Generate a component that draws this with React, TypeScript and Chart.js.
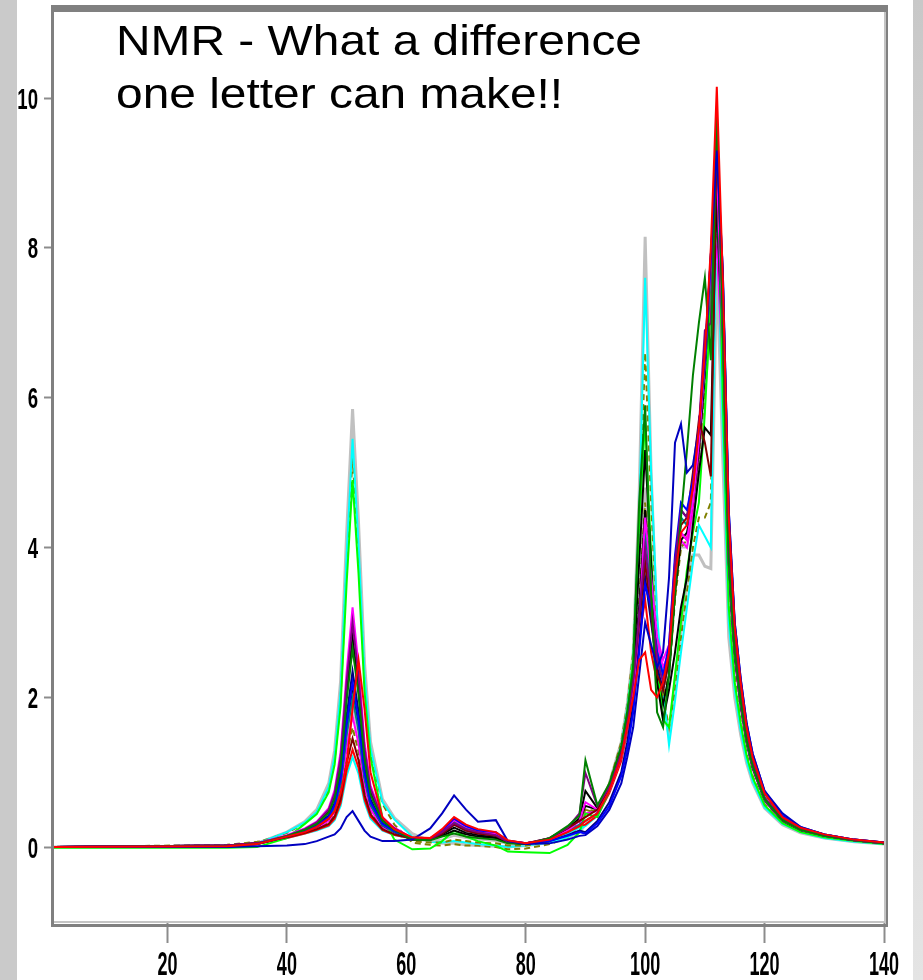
import React, { useEffect, useRef } from "react";
import { Chart, registerables } from "chart.js";

Chart.register(...registerables);

const titleLines = ["NMR - What a difference", "one letter can make!!"];
const xTicks = [20, 40, 60, 80, 100, 120, 140];
const yTicks = [0, 2, 4, 6, 8, 10];

const xValues = [1, 30, 35, 40, 43, 45, 47, 48, 49, 50, 51, 52, 53, 54, 56, 58, 61, 64, 66, 68, 70, 72, 75, 77, 80, 84, 87, 89, 90, 92, 94, 96, 97, 98, 99, 100, 101, 102, 103, 104, 105, 106, 107, 108, 109, 110, 111, 112, 113, 114, 115, 116, 117, 118, 120, 123, 126, 130, 135, 140];

const red = [0, 0.01, 0.04,
  0.14, 0.2, 0.27, 0.38, 0.48, 0.72, 1.1, 1.85, 2.5, 1.85, 1.0, 0.4, 0.24,
  0.13, 0.12, 0.24, 0.4, 0.3, 0.24, 0.2, 0.09, 0.05, 0.1, 0.2,
  0.28, 0.35, 0.45, 0.75, 1.2, 1.6, 2.0, 2.5, 2.6,
  2.1, 2.0, 2.2, 2.6, 3.6, 4.2, 4.3, 4.8, 5.6, 6.6, 8.0, 10.15,
  7.6, 4.4, 2.95, 2.2, 1.6, 1.2, 0.72, 0.4, 0.26, 0.17, 0.1, 0.06];

const odd = [0, 0.0, 0.01,
  0.02, 0.04, 0.08, 0.14, 0.17, 0.25, 0.4, 0.48, 0.35, 0.22, 0.14, 0.08, 0.08,
  0.1, 0.25, 0.45, 0.69, 0.5, 0.34, 0.36, 0.08, 0.04, 0.05, 0.1,
  0.15, 0.16, 0.28, 0.5, 0.85, 1.2, 1.6, 2.3, 3.0,
  2.7, 2.4, 2.6, 3.6, 5.4, 5.65, 5.0, 5.1, 5.6, 6.5, 7.9, 9.3,
  7.7, 4.5, 3.0, 2.25, 1.65, 1.25, 0.75, 0.45, 0.27, 0.17, 0.1, 0.06];

const darkGreen = [0, 0.01, 0.04,
  0.15, 0.23, 0.31, 0.46, 0.65, 1.07, 1.95, 2.65, 2.03, 1.18, 0.7, 0.35, 0.23,
  0.1, 0.09, 0.14, 0.18, 0.14, 0.12, 0.1, 0.05, 0.04, 0.12, 0.28,
  0.42, 1.16, 0.56, 0.85, 1.35, 1.8, 2.4, 4.6, 5.9,
  3.4, 1.8, 1.6, 2.3, 3.4, 4.4, 5.3, 6.3, 7.0, 7.6, 6.5, 9.85,
  6.9, 3.8, 2.6, 1.95, 1.42, 1.08, 0.64, 0.36, 0.23, 0.15, 0.09, 0.05];

const purple = [0, 0.02, 0.05,
  0.15, 0.24, 0.33, 0.5, 0.72, 1.2, 2.2, 3.0, 2.28, 1.32, 0.78, 0.38, 0.25,
  0.12, 0.11, 0.2, 0.32, 0.24, 0.2, 0.16, 0.07, 0.05, 0.12, 0.26,
  0.45, 0.99, 0.55, 0.8, 1.25, 1.65, 2.2, 3.1, 4.0,
  3.3, 2.5, 2.2, 2.6, 3.8, 4.5, 4.4, 4.8, 5.6, 6.9, 7.0, 9.6,
  7.2, 4.0, 2.7, 2.0, 1.47, 1.12, 0.66, 0.37, 0.24, 0.15, 0.09, 0.05];

const blue = [0, 0.01, 0.04,
  0.14, 0.21, 0.28, 0.4, 0.56, 0.91, 1.64, 2.2, 1.7, 1.0, 0.6, 0.31, 0.21,
  0.12, 0.11, 0.22, 0.38, 0.28, 0.22, 0.2, 0.08, 0.05, 0.08, 0.15,
  0.2, 0.18, 0.32, 0.55, 0.95, 1.3, 1.8, 2.6, 3.5,
  3.2, 2.6, 2.3, 2.7, 3.9, 4.6, 4.5, 4.9, 5.6, 6.6, 7.9, 9.4,
  7.7, 4.5, 3.0, 2.25, 1.65, 1.25, 0.75, 0.42, 0.27, 0.17, 0.1, 0.06];

const maroon = [0, 0.02, 0.05,
  0.13, 0.19, 0.24, 0.31, 0.41, 0.64, 1.12, 1.45, 1.16, 0.7, 0.44, 0.24, 0.17,
  0.11, 0.1, 0.18, 0.3, 0.22, 0.18, 0.15, 0.07, 0.05, 0.12, 0.25,
  0.35, 0.4, 0.5, 0.8, 1.3, 1.7, 2.25, 3.0, 3.8,
  3.1, 2.3, 2.1, 2.5, 3.7, 4.3, 4.4, 5.0, 5.7, 5.4, 4.95, 9.5,
  7.2, 4.0, 2.7, 2.0, 1.47, 1.12, 0.66, 0.37, 0.24, 0.15, 0.09, 0.05];

const magenta = [0, 0.02, 0.05,
  0.16, 0.25, 0.34, 0.52, 0.76, 1.27, 2.33, 3.2, 2.42, 1.4, 0.82, 0.4, 0.26,
  0.12, 0.12, 0.22, 0.36, 0.27, 0.22, 0.18, 0.08, 0.05, 0.1, 0.22,
  0.35, 0.6, 0.5, 0.75, 1.2, 1.6, 2.1, 3.0, 4.4,
  3.6, 2.8, 2.5, 2.7, 3.8, 4.2, 4.1, 4.6, 5.4, 6.5, 7.8, 9.0,
  6.9, 3.8, 2.6, 1.95, 1.42, 1.08, 0.64, 0.36, 0.23, 0.15, 0.09, 0.05];

const black = [0, 0.02, 0.05,
  0.15, 0.24, 0.32, 0.47, 0.68, 1.13, 2.06, 2.8, 2.14, 1.24, 0.74, 0.36, 0.24,
  0.1, 0.1, 0.15, 0.22, 0.17, 0.14, 0.12, 0.06, 0.04, 0.11, 0.25,
  0.38, 0.75, 0.52, 0.82, 1.3, 1.75, 2.3, 3.8, 5.3,
  3.8, 2.2, 1.7, 2.1, 2.6, 3.2, 3.6, 4.3, 5.0, 5.6, 5.5, 8.9,
  6.9, 3.8, 2.6, 1.95, 1.42, 1.08, 0.64, 0.36, 0.23, 0.15, 0.09, 0.05];

const navy = [0, 0.01, 0.04,
  0.14, 0.22, 0.29, 0.42, 0.59, 0.97, 1.75, 2.35, 1.81, 1.06, 0.64, 0.32, 0.22,
  0.11, 0.1, 0.18, 0.3, 0.22, 0.18, 0.15, 0.07, 0.04, 0.08, 0.16,
  0.22, 0.2, 0.35, 0.6, 1.0, 1.4, 1.9, 2.7, 3.6,
  3.0, 2.4, 2.1, 2.5, 3.7, 4.5, 4.4, 4.8, 5.5, 6.5, 7.9, 9.2,
  7.6, 4.4, 2.95, 2.2, 1.6, 1.2, 0.72, 0.4, 0.26, 0.17, 0.1, 0.06];

const teal = [0, 0.02, 0.05,
  0.14, 0.21, 0.27, 0.38, 0.52, 0.84, 1.5, 2.0, 1.56, 0.92, 0.56, 0.29, 0.2,
  0.12, 0.11, 0.2, 0.34, 0.25, 0.2, 0.17, 0.08, 0.05, 0.1, 0.2,
  0.3, 0.35, 0.45, 0.75, 1.2, 1.6, 2.1, 3.0, 4.2,
  3.5, 2.6, 2.3, 2.5, 3.7, 4.4, 4.3, 4.7, 5.5, 6.4, 7.7, 8.7,
  6.8, 3.75, 2.6, 1.92, 1.4, 1.07, 0.63, 0.36, 0.23, 0.15, 0.09, 0.05];

const green = [-0.01, -0.01, 0.0,
  0.12, 0.31, 0.44, 0.73, 1.1, 1.88, 3.51, 4.9, 3.65, 2.08, 1.2, 0.4, 0.1,
  -0.03, -0.02, 0.08, 0.22, 0.14, 0.08, 0.02, -0.06, -0.07, -0.08, 0.03,
  0.2, 0.45, 0.4, 0.75, 1.3, 1.8, 2.5, 4.3, 5.7,
  3.9, 2.4, 1.7, 1.6, 2.3, 3.0, 3.7, 4.2, 4.6, 5.8, 7.3, 9.7,
  6.0, 3.2, 2.2, 1.65, 1.22, 0.93, 0.56, 0.32, 0.2, 0.13, 0.08, 0.04];

const black2 = [0, 0.02, 0.05,
  0.14, 0.21, 0.27, 0.38, 0.53, 0.86, 1.54, 2.05, 1.6, 0.94, 0.57, 0.29, 0.2,
  0.1, 0.1, 0.17, 0.26, 0.19, 0.16, 0.13, 0.06, 0.04, 0.12, 0.26,
  0.36, 0.55, 0.5, 0.8, 1.3, 1.7, 2.25, 3.2, 4.5,
  3.4, 2.3, 1.9, 2.3, 3.4, 4.1, 4.2, 4.6, 5.3, 6.3, 7.6, 8.5,
  6.7, 3.7, 2.55, 1.9, 1.4, 1.06, 0.63, 0.35, 0.22, 0.14, 0.09, 0.05];

const red2 = [0, 0.01, 0.04,
  0.12, 0.18, 0.23, 0.29, 0.38, 0.59, 1.02, 1.3, 1.06, 0.64, 0.41, 0.23, 0.16,
  0.12, 0.12, 0.2, 0.35, 0.26, 0.22, 0.18, 0.09, 0.05, 0.1, 0.2,
  0.28, 0.3, 0.42, 0.72, 1.15, 1.55, 2.05, 2.8, 3.3,
  2.6, 2.2, 2.2, 2.6, 3.7, 4.2, 4.1, 4.6, 5.4, 6.5, 7.8, 8.6,
  6.9, 3.9, 2.65, 1.97, 1.44, 1.1, 0.65, 0.37, 0.24, 0.15, 0.09, 0.05];

const cyan2 = [0, 0.02, 0.05,
  0.12, 0.18, 0.22, 0.28, 0.36, 0.55, 0.95, 1.2, 0.98, 0.6, 0.38, 0.22, 0.16,
  0.11, 0.11, 0.2, 0.38, 0.27, 0.22, 0.18, 0.08, 0.04, 0.09, 0.18,
  0.26, 0.28, 0.42, 0.75, 1.2, 1.6, 2.15, 3.1, 4.3,
  3.4, 2.6, 2.3, 2.5, 3.6, 4.4, 4.3, 4.8, 5.5, 6.6, 7.7, 8.8,
  6.8, 3.8, 2.6, 1.95, 1.42, 1.08, 0.64, 0.36, 0.23, 0.15, 0.09, 0.05];

const magenta2 = [0, 0.02, 0.05,
  0.13, 0.2, 0.25, 0.35, 0.47, 0.75, 1.33, 1.75, 1.38, 0.82, 0.5, 0.27, 0.19,
  0.12, 0.11, 0.2, 0.33, 0.25, 0.2, 0.17, 0.08, 0.05, 0.1, 0.2,
  0.3, 0.45, 0.48, 0.78, 1.22, 1.62, 2.15, 3.0, 3.9,
  3.3, 2.7, 2.4, 2.6, 3.6, 4.1, 4.0, 4.5, 5.3, 6.4, 7.5, 8.0,
  6.4, 3.6, 2.5, 1.88, 1.38, 1.05, 0.62, 0.35, 0.22, 0.14, 0.09, 0.05];

const olive2 = [0, 0.03, 0.07,
  0.13, 0.19, 0.24, 0.33, 0.44, 0.7, 1.23, 1.6, 1.27, 0.76, 0.47, 0.25, 0.18,
  0.08, 0.06, 0.06, 0.1, 0.08, 0.06, 0.05, 0.02, 0.02, 0.08, 0.2,
  0.32, 0.5, 0.48, 0.8, 1.28, 1.7, 2.2, 3.3, 4.6,
  3.5, 2.5, 2.0, 2.3, 3.3, 4.0, 4.1, 4.5, 5.2, 6.1, 7.3, 8.4,
  6.5, 3.6, 2.5, 1.86, 1.37, 1.05, 0.62, 0.35, 0.22, 0.14, 0.09, 0.05];

const gray2 = [0, 0.01, 0.04,
  0.13, 0.2, 0.26, 0.36, 0.5, 0.8, 1.43, 1.9, 1.49, 0.88, 0.54, 0.28, 0.2,
  0.1, 0.08, 0.1, 0.15, 0.12, 0.1, 0.08, 0.04, 0.03, 0.08, 0.18,
  0.28, 0.3, 0.45, 0.78, 1.25, 1.7, 2.2, 3.2, 4.8,
  3.6, 2.5, 2.1, 2.4, 3.4, 4.0, 4.0, 4.4, 5.1, 6.0, 7.0, 8.2,
  6.4, 3.6, 2.5, 1.85, 1.36, 1.04, 0.62, 0.35, 0.22, 0.14, 0.08, 0.05];

const cyan = [0, 0.01, 0.05,
  0.2, 0.33, 0.47, 0.8, 1.21, 2.08, 3.89, 5.45, 4.04, 2.3, 1.32, 0.6, 0.37,
  0.14, 0.07, 0.06, 0.08, 0.06, 0.04, 0.02, 0.0, 0.02, 0.06, 0.13,
  0.22, 0.3, 0.42, 0.8, 1.35, 1.85, 2.5, 4.4, 7.6,
  5.0, 3.1, 2.1, 1.36, 1.95, 2.6, 3.2, 3.8, 4.3, 4.15, 4.0, 8.6,
  5.6, 3.0, 2.1, 1.55, 1.15, 0.88, 0.53, 0.31, 0.2, 0.12, 0.07, 0.04];

const olive = [0, 0.02, 0.06,
  0.19, 0.32, 0.46, 0.77, 1.16, 1.99, 3.72, 5.2, 3.86, 2.2, 1.26, 0.58, 0.3,
  0.06, 0.03, 0.02, 0.04, 0.02, 0.02, 0.0, -0.03, -0.02, 0.04, 0.12,
  0.28, 0.5, 0.45, 0.85, 1.4, 1.9, 2.6, 4.3, 6.6,
  4.6, 2.9, 2.0, 1.6, 2.1, 2.8, 3.4, 4.0, 4.4, 4.4, 4.6, 8.8,
  6.0, 3.3, 2.3, 1.7, 1.25, 0.95, 0.57, 0.33, 0.21, 0.13, 0.08, 0.05];

const gray = [0, 0.01, 0.05,
  0.2, 0.34, 0.5, 0.85, 1.29, 2.22, 4.17, 5.85, 4.33, 2.46, 1.41, 0.64, 0.39,
  0.18, 0.08, 0.05, 0.05, 0.03, 0.02, 0.01, 0.0, 0.02, 0.06, 0.12,
  0.2, 0.3, 0.45, 0.85, 1.4, 1.9, 2.6, 4.7, 8.15,
  5.0, 2.9, 1.9, 1.5, 2.2, 2.9, 3.5, 3.9, 3.9, 3.75, 3.72, 7.8,
  5.2, 2.8, 2.0, 1.5, 1.12, 0.86, 0.52, 0.3, 0.19, 0.12, 0.07, 0.04];

// drawing order: first entry is drawn on top
const seriesList = [
  { name: "red", values: red, color: "#ff0000" },
  { name: "odd", values: odd, color: "#0000c0" },
  { name: "darkGreen", values: darkGreen, color: "#008000" },
  { name: "purple", values: purple, color: "#800080" },
  { name: "blue", values: blue, color: "#0000ff" },
  { name: "maroon", values: maroon, color: "#800000" },
  { name: "magenta", values: magenta, color: "#ff00ff" },
  { name: "black", values: black, color: "#000000" },
  { name: "navy", values: navy, color: "#000080" },
  { name: "teal", values: teal, color: "#008080" },
  { name: "green", values: green, color: "#00ff00" },
  { name: "black2", values: black2, color: "#000000" },
  { name: "red2", values: red2, color: "#ff0000" },
  { name: "cyan2", values: cyan2, color: "#00ffff" },
  { name: "magenta2", values: magenta2, color: "#ff00ff" },
  { name: "olive2", values: olive2, color: "#808000", dash: true },
  { name: "gray2", values: gray2, color: "#c0c0c0" },
  { name: "cyan", values: cyan, color: "#00ffff" },
  { name: "olive", values: olive, color: "#808000", dash: true },
  { name: "gray", values: gray, color: "#c0c0c0", wide: true },
];

const decorPlugin = {
  id: "decor",
  beforeDraw(chart: any) {
    const ctx = chart.ctx;
    const w = chart.width;
    const h = chart.height;
    ctx.save();
    ctx.fillStyle = "#cacaca";
    ctx.fillRect(0, 0, 17, h);
    const g = ctx.createLinearGradient(0, 0, 0, h);
    g.addColorStop(0, "#c8c8c8");
    g.addColorStop(1, "#e4e4e4");
    ctx.fillStyle = g;
    ctx.fillRect(913, 0, w - 913, h);
    ctx.fillStyle = "#ffffff";
    ctx.fillRect(17, 0, 896, h);
    ctx.restore();
  },
  afterDraw(chart: any) {
    const ctx = chart.ctx;
    const a = chart.chartArea;
    const xs = chart.scales.x;
    const ys = chart.scales.y;
    ctx.save();
    // frame
    ctx.fillStyle = "#c4c4c4";
    ctx.fillRect(a.left - 1, a.bottom - 1, a.right - a.left + 2, 2);
    ctx.fillRect(a.right, a.top, 2, a.bottom - a.top);
    ctx.fillStyle = "#808080";
    ctx.fillRect(a.left - 3, a.top - 7, a.right - a.left + 7, 7);
    ctx.fillRect(a.left - 3, a.top, 3, a.bottom - a.top + 5);
    ctx.fillRect(a.left - 3, a.bottom + 2, a.right - a.left + 7, 3);
    ctx.fillRect(a.right + 2, a.top - 3, 2, a.bottom - a.top + 8);

    // title
    ctx.fillStyle = "#000000";
    ctx.font = '42px "Liberation Sans", Arial, sans-serif';
    ctx.textAlign = "left";
    ctx.textBaseline = "alphabetic";
    const baselines = [55, 108];
    titleLines.forEach((line, i) => {
      ctx.save();
      ctx.translate(116, baselines[i]);
      ctx.scale(1.14, 1);
      ctx.fillText(line, 0, 0);
      ctx.restore();
    });

    // y tick labels
    ctx.font = 'bold 30px "Liberation Sans", Arial, sans-serif';
    ctx.textAlign = "right";
    yTicks.forEach((v) => {
      const py = ys.getPixelForValue(v);
      ctx.save();
      ctx.translate(38, py + 10.5);
      ctx.scale(0.62, 1);
      ctx.fillText(String(v), 0, 0);
      ctx.restore();
    });

    // x tick labels
    ctx.font = 'bold 34px "Liberation Sans", Arial, sans-serif';
    ctx.textAlign = "center";
    xTicks.forEach((v) => {
      const px = xs.getPixelForValue(v);
      ctx.save();
      ctx.translate(px, 975);
      ctx.scale(0.53, 1);
      ctx.fillText(String(v), 0, 0);
      ctx.restore();
    });
    ctx.restore();
  },
};

export default function App() {
  const ref = useRef<HTMLCanvasElement | null>(null);

  useEffect(() => {
    if (!ref.current) return;
    const datasets = seriesList.map((s: any) => ({
      label: s.name,
      data: xValues.map((x, i) => ({ x, y: s.values[i] })),
      borderColor: s.color,
      backgroundColor: s.color,
      borderWidth: s.wide ? 3 : 2,
      borderDash: s.dash ? [6, 4] : [],
      pointRadius: 0,
      tension: 0,
      fill: false,
    }));
    const chart = new Chart(ref.current, {
      type: "line",
      data: { datasets },
      plugins: [decorPlugin],
      options: {
        animation: false,
        responsive: false,
        events: [],
        layout: { padding: { left: 0, right: 39, top: 12, bottom: 0 } },
        plugins: { legend: { display: false }, tooltip: { enabled: false }, title: { display: false } },
        scales: {
          x: {
            type: "linear",
            min: 1,
            max: 140,
            afterBuildTicks: (scale: any) => {
              scale.ticks = xTicks.map((value) => ({ value }));
            },
            afterFit: (scale: any) => {
              scale.height = 58;
            },
            ticks: { display: false },
            border: { display: false },
            grid: {
              drawOnChartArea: false,
              drawTicks: true,
              tickLength: 21,
              tickColor: "#8c8c8c",
              tickWidth: 2,
            },
          },
          y: {
            type: "linear",
            min: -1,
            max: 11.15,
            afterBuildTicks: (scale: any) => {
              scale.ticks = yTicks.map((value) => ({ value }));
            },
            afterFit: (scale: any) => {
              scale.width = 54;
            },
            ticks: { display: false },
            border: { display: false },
            grid: {
              drawOnChartArea: false,
              drawTicks: true,
              tickLength: 10,
              tickColor: "#8c8c8c",
              tickWidth: 2,
            },
          },
        },
      },
    } as any);
    return () => chart.destroy();
  }, []);

  return (
    <div style={{ position: "fixed", left: 0, top: 0, width: 923, height: 980, background: "#ffffff" }}>
      <canvas ref={ref} width={923} height={980} style={{ display: "block", width: 923, height: 980 }} />
    </div>
  );
}
